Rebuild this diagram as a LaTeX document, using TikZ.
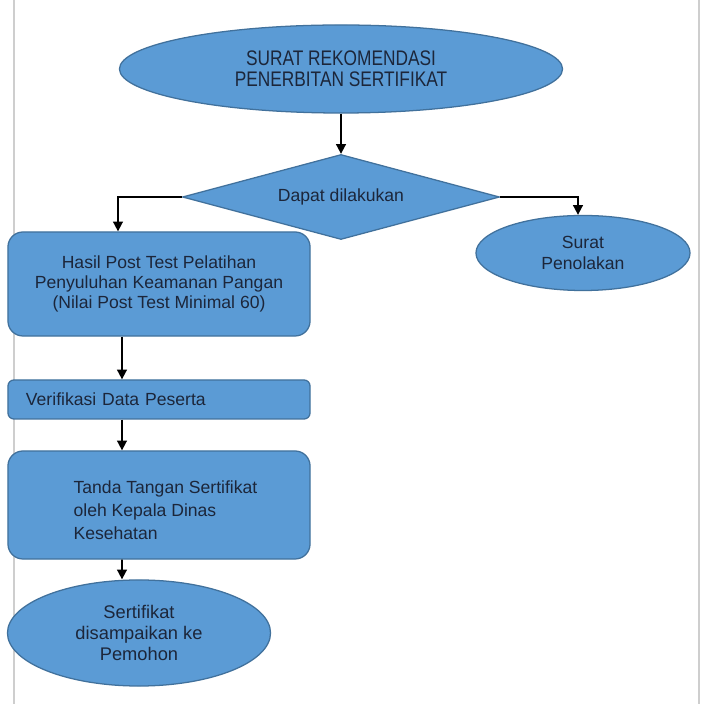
\documentclass[tikz,border=0pt]{standalone}
\usepackage{fontspec}
\setmainfont{Liberation Sans}
\newfontfamily\condfont[FakeStretch=0.82]{Liberation Sans}
\usepackage{tikz}
\usetikzlibrary{shapes,arrows.meta,positioning,calc}
\usepackage{xcolor}
\definecolor{flowblue}{RGB}{91,155,213}
\definecolor{flowedge}{RGB}{65,113,156}
\definecolor{flowtext}{RGB}{28,38,58}
\definecolor{framegray}{RGB}{206,206,206}

\tikzset{
  flowbox/.style={rectangle,fill=flowblue,draw=flowedge,line width=0.9pt,rounded corners=0.375cm,text=flowtext,inner sep=0pt,minimum width=7.55cm,font=\fontsize{12.5}{14.2}\selectfont},
  flowoval/.style={ellipse,fill=flowblue,draw=flowedge,line width=0.9pt,text=flowtext,inner sep=0pt,align=center},
  flowcheck/.style={diamond,fill=flowblue,draw=flowedge,line width=0.9pt,text=flowtext,inner sep=0pt,aspect=3.73},
  flowarrow/.style={-{Triangle[length=7pt,width=7pt]},line width=1.3pt,black}
}

\begin{document}
\begin{tikzpicture}[x=0.025cm,y=0.025cm]
        \useasboundingbox[fill=white] (0,0) rectangle (706,704);
        \draw[framegray,line width=1.8pt] (14,0) -- (14,704);
        \draw[framegray,line width=1.8pt] (699,0) -- (699,704);

        % Start
        \node[flowoval,minimum width=11.075cm,minimum height=2.2cm,font=\condfont\fontsize{15}{15}\selectfont] (mulai) at (341,635) {SURAT REKOMENDASI\\PENERBITAN SERTIFIKAT};

        % Decision
        \node[flowcheck,minimum width=7.925cm,minimum height=2.125cm,font=\fontsize{12.5}{15}\selectfont] (cek) at (341,507) {Dapat dilakukan};

        % Rejection
        \node[flowoval,minimum width=5.35cm,minimum height=1.875cm,font=\fontsize{12.5}{14.7}\selectfont] (tolak) at (583,451) {Surat\\Penolakan};

        % Step 1
        \node[flowbox,minimum height=2.6cm,align=center] (hasil) at (159,420) {Hasil Post Test Pelatihan\\Penyuluhan Keamanan Pangan\\(Nilai Post Test Minimal 60)};

        % Step 2
        \node[flowbox,minimum height=0.975cm,rounded corners=0.15cm,text width=6.65cm,inner xsep=0.45cm,align=left] (verif) at (159,304.5) {Verifikasi Data Peserta};

        % Step 3
        \node[flowbox,minimum height=2.7cm] (ttd) at (159,199) {};
        \node[anchor=west,align=left,text=flowtext,inner sep=0pt,font=\fontsize{12.5}{16.4}\selectfont] (ttdteks) at ([xshift=1.65cm,yshift=-0.125cm]ttd.west) {Tanda Tangan Sertifikat\\oleh Kepala Dinas\\Kesehatan};

        % End
        \node[flowoval,minimum width=6.575cm,minimum height=2.65cm,font=\fontsize{13}{15}\selectfont] (kirim) at (139,71) {Sertifikat\\disampaikan ke\\Pemohon};

        % Connectors
        \draw[flowarrow] (mulai.south) -- (cek.north);
        \draw[flowarrow] (cek.west) -| ([xshift=-1.025cm]hasil.north);
        \draw[flowarrow] (cek.east) -| ([xshift=-0.125cm]tolak.north);
        \draw[flowarrow] ([xshift=-0.925cm]hasil.south) -- ([xshift=-0.925cm]verif.north);
        \draw[flowarrow] ([xshift=-0.925cm]verif.south) -- ([xshift=-0.925cm]ttd.north);
        \draw[flowarrow] ([xshift=-0.925cm]ttd.south) -- ([xshift=-0.425cm]kirim.north);
    \end{tikzpicture}
\end{document}
